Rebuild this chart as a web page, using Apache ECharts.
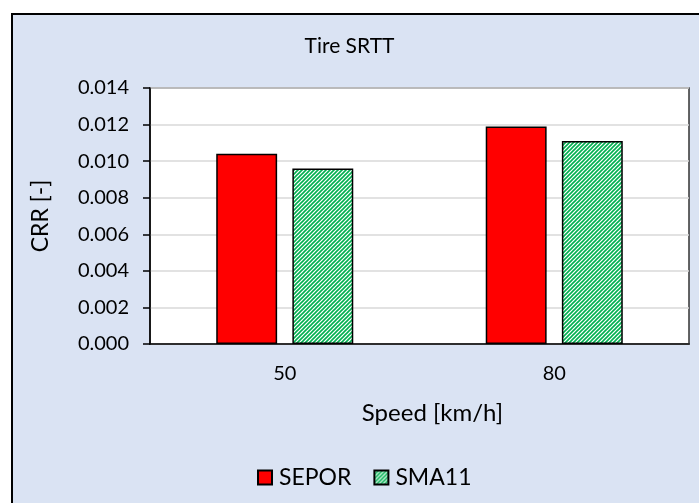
<!DOCTYPE html>
<html>
<head>
<meta charset="utf-8">
<title>Tire SRTT</title>
<script src="https://cdn.jsdelivr.net/npm/echarts@6/dist/echarts.min.js"></script>
<style>
  html, body { margin: 0; padding: 0; background: #ffffff; }
  #chart { width: 699px; height: 503px; }
</style>
</head>
<body>
<div id="chart"></div>
<script>
// --- Data ---
const speeds = ["50", "80"];
const seporValues = [0.0104, 0.0119];
const sma11Values = [0.0096, 0.0111];

// --- Green diagonal hatch used for SMA11 ---
function hatchPattern() {
  const n = 4;
  const c = document.createElement("canvas");
  c.width = n;
  c.height = n;
  const ctx = c.getContext("2d");
  ctx.fillStyle = "#ffffff";
  ctx.fillRect(0, 0, n, n);
  ctx.strokeStyle = "#00B050";
  ctx.lineWidth = 1.6;
  ctx.beginPath();
  ctx.moveTo(-1, n + 1); ctx.lineTo(n + 1, -1);
  ctx.moveTo(-1, 1); ctx.lineTo(1, -1);
  ctx.moveTo(n - 1, n + 1); ctx.lineTo(n + 1, n - 1);
  ctx.stroke();
  return c;
}

const font = "Lato, 'Open Sans', sans-serif";
const chart = echarts.init(document.getElementById("chart"), null, { renderer: "canvas" });

chart.setOption({
  animation: false,
  textStyle: { fontFamily: font, color: "#000" },
  graphic: [{
    type: "rect",
    z: -10,
    silent: true,
    shape: { x: 12, y: 14, width: 720, height: 520 },
    style: { fill: "#DAE3F3", stroke: "#000", lineWidth: 2 }
  }],
  title: {
    text: "Tire SRTT",
    left: "center",
    top: 31,
    textStyle: { fontFamily: font, fontSize: 21, fontWeight: "normal", color: "#000" }
  },
  legend: {
    bottom: 9,
    left: 252,
    icon: "rect",
    itemWidth: 14,
    itemHeight: 14,
    itemGap: 22,
    textStyle: { fontFamily: font, fontSize: 23, color: "#000", padding: [0, 0, 0, 2] },
    data: ["SEPOR", "SMA11"]
  },
  grid: {
    left: 150, right: 10, top: 88, bottom: 159,
    show: true,
    backgroundColor: "#ffffff",
    borderColor: "#333",
    borderWidth: 1.5
  },
  xAxis: {
    type: "category",
    data: speeds,
    name: "Speed [km/h]",
    nameLocation: "middle",
    nameGap: 57,
    nameTextStyle: { fontFamily: font, fontSize: 24, color: "#000", padding: [0, 0, 0, 26] },
    axisLine: { lineStyle: { color: "#000", width: 1.5 } },
    axisTick: { show: false },
    axisLabel: { fontFamily: font, fontSize: 20, color: "#000", margin: 20 }
  },
  yAxis: {
    type: "value",
    min: 0,
    max: 0.014,
    interval: 0.002,
    name: "CRR [-]",
    nameLocation: "middle",
    nameGap: 98,
    nameTextStyle: { fontFamily: font, fontSize: 23, color: "#000" },
    axisLine: { show: true, lineStyle: { color: "#000", width: 1.5 } },
    axisTick: { show: true, length: 7, lineStyle: { color: "#000", width: 1.5 } },
    axisLabel: {
      fontFamily: font, fontSize: 20, color: "#000", margin: 21,
      formatter: (v) => v.toFixed(3)
    },
    splitLine: { lineStyle: { color: "#D9D9D9", width: 1.5 } }
  },
  series: [
    {
      name: "SEPOR",
      type: "bar",
      data: seporValues,
      barWidth: "22.6%",
      barGap: "25%",
      itemStyle: { color: "#FF0000", borderColor: "#000", borderWidth: 1.5 }
    },
    {
      name: "SMA11",
      type: "bar",
      data: sma11Values,
      barWidth: "22.6%",
      itemStyle: {
        color: { image: hatchPattern(), repeat: "repeat" },
        borderColor: "#000",
        borderWidth: 1.5
      }
    }
  ]
});
</script>
</body>
</html>
